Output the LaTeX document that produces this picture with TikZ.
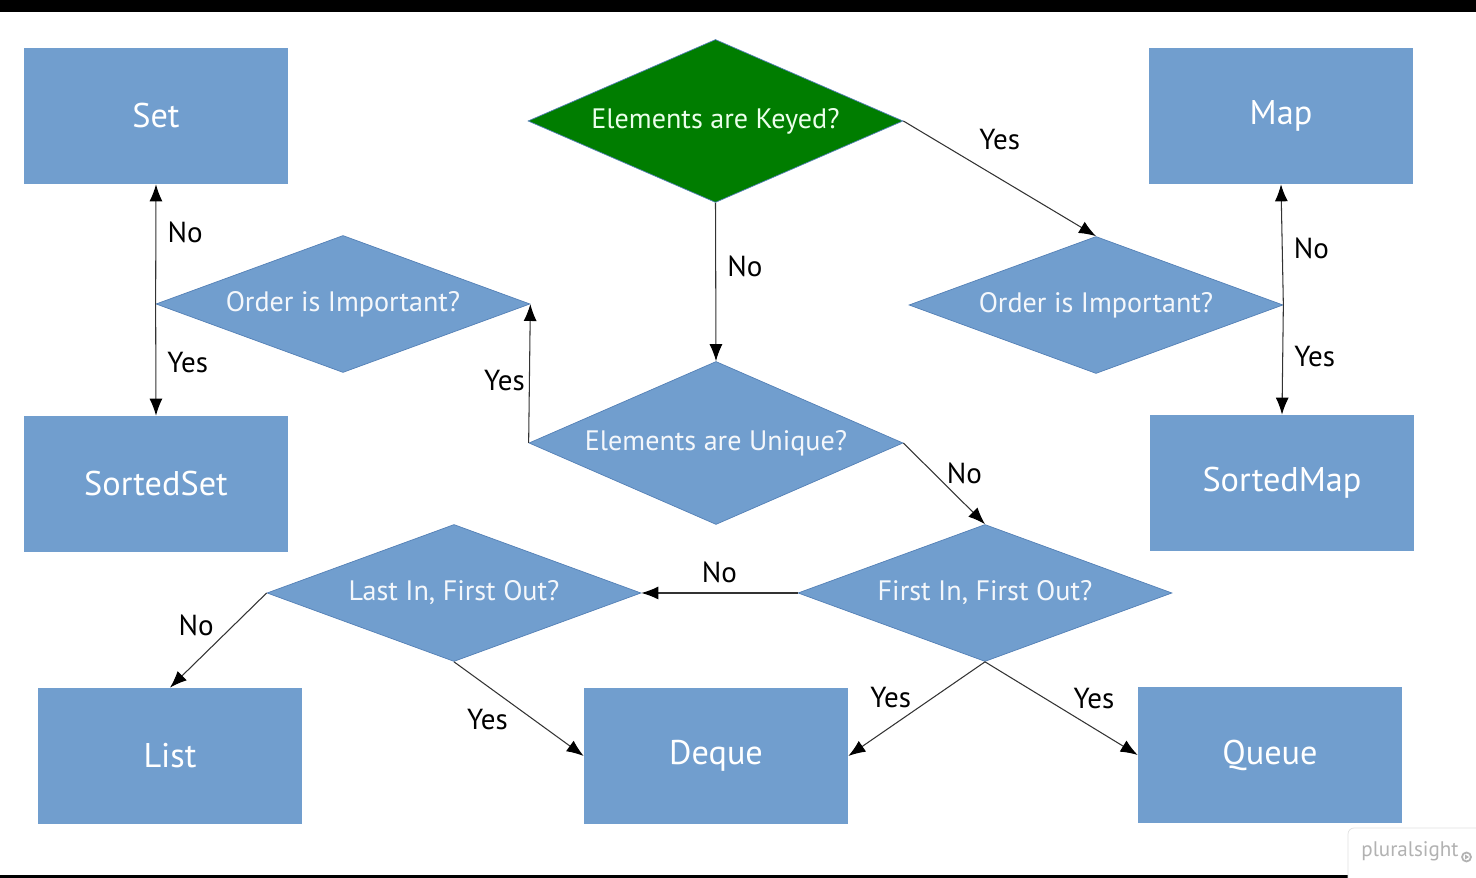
\documentclass[tikz,border=0pt]{standalone}
\usepackage{fontspec}
\setmainfont{PT Sans}
\usetikzlibrary{shapes.geometric}
\usetikzlibrary{arrows.meta}
\definecolor{boxblue}{RGB}{113,158,206}
\definecolor{edgeblue}{RGB}{84,128,182}
\definecolor{keygreen}{RGB}{0,125,0}
\definecolor{wmgray}{RGB}{178,178,178}

\begin{document}
\begin{tikzpicture}[every node/.style={font=\fontsize{16.5}{18}\selectfont},
		box/.style={fill=boxblue, minimum width=5.28cm, minimum height=2.72cm, text=white, font=\fontsize{19.5}{22}\selectfont},
		ask/.style={diamond, draw=edgeblue, fill=boxblue, text=white!92!boxblue, aspect=2.7, inner sep=0pt, minimum width=7.48cm, minimum height=2.74cm, font=\fontsize{16}{18}\selectfont},
		flow/.style={draw=black!80, line width=0.6pt, -{Latex[length=0.34cm, width=0.26cm, black]}}]
		\useasboundingbox (0,0) rectangle (29.52,17.56);
		\fill[black] (0,17.32) rectangle (29.52,17.56);
		\fill[black] (0,0) rectangle (29.52,0.06);
		\node[box] (set) at (3.12,15.24) {Set};
		\node[box] (sset) at (3.12,7.88) {SortedSet};
		\node[box] (map) at (25.62,15.24) {Map};
		\node[box] (smap) at (25.64,7.90) {SortedMap};
		\node[box] (list) at (3.40,2.44) {List};
		\node[box] (deque) at (14.32,2.44) {Deque};
		\node[box] (queue) at (25.40,2.46) {Queue};
		\node[ask, fill=keygreen, text=green!8, minimum width=7.5cm, minimum height=3.26cm] (keyed) at (14.31,15.14) {Elements are Keyed?};
		\node[ask] (ordl) at (6.86,11.48) {Order is Important?};
		\node[ask] (ordr) at (21.92,11.46) {Order is Important?};
		\node[ask, minimum height=3.26cm] (uniq) at (14.32,8.70) {Elements are Unique?};
		\node[ask] (fifo) at (19.70,5.70) {First In, First Out?};
		\node[ask] (lifo) at (9.08,5.70) {Last In, First Out?};
		\draw[flow] (keyed.east) -- node[midway, above=0.45cm] {Yes} (ordr.north);
		\draw[flow] (keyed.south) -- node[pos=0.4, right=3pt] {No} (uniq.north);
		\draw[flow] (uniq.west) -- node[pos=0.45, left=-1pt] {Yes} (ordl.east);
		\draw[flow] (ordl.west) -- node[pos=0.6, right=3pt] {No} (set.south);
		\draw[flow] (ordl.west) -- node[pos=0.52, right=3pt] {Yes} (sset.north);
		\draw[flow] (ordr.east) -- node[pos=0.47, right=3pt] {No} (map.south);
		\draw[flow] (ordr.east) -- node[pos=0.47, right=3pt] {Yes} (smap.north);
		\draw[flow] (uniq.east) -- node[pos=0.52, above right=-3pt] {No} (fifo.north);
		\draw[flow] (fifo.west) -- node[midway, above=2pt] {No} (lifo.east);
		\draw[flow] (fifo.south) -- node[pos=0.52, above left=-2pt] {Yes} (deque.east);
		\draw[flow] (fifo.south) -- node[pos=0.55, above right=-1pt] {Yes} (queue.west);
		\draw[flow] (lifo.west) -- node[pos=0.5, above left=-1pt] {No} (list.north);
		\draw[flow] (lifo.south) -- node[pos=0.45, below left=-1pt] {Yes} (deque.west);
		\draw[black!12, fill=white, rounded corners=0.12cm] (26.96,-0.2) rectangle (29.8,1.0);
		\node[text=wmgray, font=\fontsize{12}{14}\selectfont] (wm) at (28.2,0.54) {pluralsight};
		\draw[wmgray, line width=1pt] (29.33,0.42) circle (0.09);
		\fill[wmgray] (29.30,0.37) -- (29.30,0.47) -- (29.38,0.42) -- cycle;
	\end{tikzpicture}
\end{document}
